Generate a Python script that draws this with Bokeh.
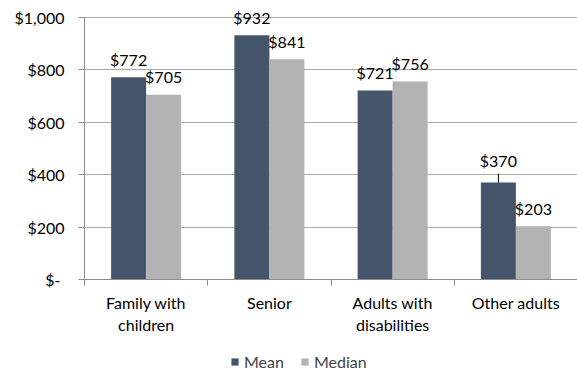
import math
from bokeh.plotting import figure
from bokeh.layouts import column
from bokeh.models import FixedTicker, Legend, LegendItem, ColumnDataSource, Range1d
from bokeh.core.properties import value
from bokeh.embed import file_html
from bokeh.resources import INLINE

categories = ["Family with\nchildren", "Senior", "Adults with\ndisabilities", "Other adults"]
mean = [772, 932, 721, 370]
median = [705, 841, 756, 203]
y_ticks = [0, 200, 400, 600, 800, 1000]
y_tick_labels = ["$-\u00a0", "$200", "$400", "$600", "$800", "$1,000"]
series_names = ["Mean", "Median"]

FONT = "Lato"
FS = "16px"
MEAN_C = "#44546A"
MED_C = "#B3B3B3"
GRID_C = "#A8A8A8"
AXIS_C = "#8C8C8C"

n = len(categories)
centers = [i + 0.5 for i in range(n)]
off = 0.142
bw = 0.284

p = figure(width=577, height=337, output_backend="svg", toolbar_location=None,
           x_range=Range1d(0, n), y_range=Range1d(0, 1065),
           min_border_left=84, min_border_right=0, min_border_top=0, min_border_bottom=58)
p.outline_line_color = None
p.background_fill_color = "white"
p.border_fill_color = "white"

# leader line for the small "Other adults" mean label (drawn under the bar)
lead_idx = 3
p.scatter(x=[centers[lead_idx] - off], y=[mean[lead_idx]], marker="dash", size=18,
          angle=math.pi / 2, line_color="black", line_width=1)

src_mean = ColumnDataSource(dict(x=[c - off for c in centers], top=mean,
                                 lab=[f"${v:,}" for v in mean],
                                 yo=[-22 if i == lead_idx else -18 for i in range(n)]))
src_med = ColumnDataSource(dict(x=[c + off for c in centers], top=median,
                                lab=[f"${v:,}" for v in median],
                                yo=[-18] * n))

p.vbar(x="x", top="top", width=bw, source=src_mean, fill_color=MEAN_C, line_color=None)
p.vbar(x="x", top="top", width=bw, source=src_med, fill_color=MED_C, line_color=None)

for s in (src_mean, src_med):
    p.text(x="x", y="top", text="lab", source=s, y_offset="yo",
           text_align="center", text_baseline="middle",
           text_font=value(FONT), text_font_size=FS, text_color="#000000")

# y axis
ya = p.yaxis[0]
ya.ticker = FixedTicker(ticks=y_ticks)
ya.bounds = (0, 1000)
ya.major_label_overrides = {t: l for t, l in zip(y_ticks, y_tick_labels)}
ya.major_label_text_font = FONT
ya.major_label_text_font_size = FS
ya.major_label_text_color = "#000000"
ya.major_label_standoff = 14
ya.major_tick_out = 6
ya.major_tick_in = 0
ya.minor_tick_line_color = None
ya.axis_line_color = AXIS_C
ya.major_tick_line_color = AXIS_C

# x axis
xa = p.xaxis[0]
xa.ticker = FixedTicker(ticks=centers, minor_ticks=list(range(n + 1)))
xa.major_label_overrides = {c: l for c, l in zip(centers, categories)}
xa.major_label_text_font = FONT
xa.major_label_text_font_size = FS
xa.major_label_text_color = "#000000"
xa.major_label_standoff = 7
xa.major_tick_line_color = None
xa.minor_tick_out = 6
xa.minor_tick_in = 0
xa.minor_tick_line_color = AXIS_C
xa.axis_line_color = AXIS_C

p.xgrid.grid_line_color = None
p.ygrid.grid_line_color = GRID_C
p.ygrid.ticker = FixedTicker(ticks=y_ticks)

# legend strip below the chart (same borders so the column keeps the chart frame in place)
p2 = figure(width=577, height=34, output_backend="svg", toolbar_location=None,
            x_axis_type=None, y_axis_type=None, x_range=Range1d(0, 1), y_range=Range1d(0, 1),
            min_border_left=84, min_border_right=0, min_border_top=0, min_border_bottom=0)
p2.outline_line_color = None
p2.xgrid.grid_line_color = None
p2.ygrid.grid_line_color = None
lr1 = p2.vbar(x=[-10], top=[0], width=0.1, fill_color=MEAN_C, line_color=None)
lr2 = p2.vbar(x=[-10], top=[0], width=0.1, fill_color=MED_C, line_color=None)
legend = Legend(items=[LegendItem(label=series_names[0], renderers=[lr1]),
                       LegendItem(label=series_names[1], renderers=[lr2])],
                orientation="horizontal", location=(146, 0),
                label_text_font=FONT, label_text_font_size=FS,
                glyph_width=9, glyph_height=9, label_standoff=5, spacing=16,
                padding=0, margin=0, border_line_color=None,
                background_fill_alpha=0, label_height=18)
p2.add_layout(legend, "center")

open("out.html", "w").write(file_html(column(p, p2, spacing=0), INLINE))
